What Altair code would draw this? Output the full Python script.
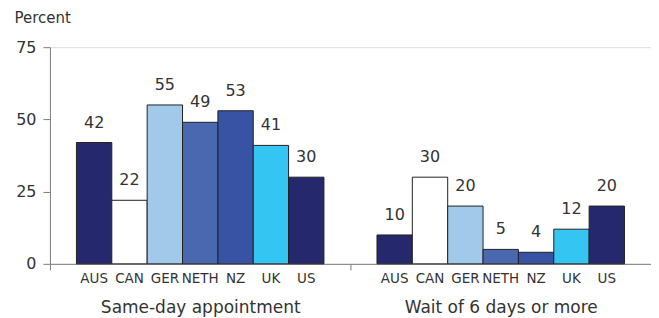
import altair as alt
import pandas as pd

countries = ["AUS", "CAN", "GER", "NETH", "NZ", "UK", "US"]
groups = ["Same-day appointment", "Wait of 6 days or more"]
same_day = [42, 22, 55, 49, 53, 41, 30]
wait_6 = [10, 30, 20, 5, 4, 12, 20]
colors = ["#26286e", "#ffffff", "#a2c8ea", "#4a68b0", "#3853a4", "#35c5f2", "#26286e"]

rows = []
for g, vals in zip(groups, [same_day, wait_6]):
    for c, v in zip(countries, vals):
        rows.append({"group": g, "country": c, "value": v})
df = pd.DataFrame(rows)

FONT = "DejaVu Sans"
TXT = "#333333"
AX = "#808080"

x = alt.X("group:N", sort=groups, title=None,
          scale=alt.Scale(paddingInner=0, paddingOuter=0),
          axis=alt.Axis(labelAngle=0, labelFontSize=17, labelColor=TXT, labelFont=FONT,
                        labelPadding=30, labelLimit=400, tickBand="extent", tickSize=6,
                        domainColor=AX, tickColor=AX, labelBaseline="top"))
xo = alt.XOffset("country:N", sort=countries,
                 scale=alt.Scale(paddingInner=0, paddingOuter=0.75))
y = alt.Y("value:Q", scale=alt.Scale(domain=[0, 75], nice=False), title="Percent",
          axis=alt.Axis(values=[0, 25, 50, 75], grid=False, labelFontSize=16,
                        labelColor=TXT, labelFont=FONT, tickSize=7, labelPadding=7,
                        domainColor=AX, tickColor=AX,
                        titleAngle=0, titleX=-36, titleY=-30, titleAlign="left",
                        titleBaseline="middle", titleFontSize=15, titleFontWeight="normal",
                        titleColor=TXT, titleFont=FONT))

base = alt.Chart(df)

bars = base.mark_bar(stroke="#222222", strokeWidth=1).encode(
    x=x, xOffset=xo, y=y,
    color=alt.Color("country:N", sort=countries, legend=None,
                    scale=alt.Scale(domain=countries, range=colors)),
)

vals = base.mark_text(baseline="middle", dy=-20, fontSize=16, color=TXT, font=FONT).encode(
    x=x, xOffset=xo, y="value:Q", text="value:Q")

labels = base.mark_text(baseline="top", dy=8, fontSize=13.5, color=TXT, font=FONT).encode(
    x=x, xOffset=xo, y=alt.datum(0), text="country:N")

chart = alt.layer(bars, vals, labels).properties(
    width=602, height=217,
    autosize=alt.AutoSizeParams(type="none"),
    padding={"left": 42, "top": 39, "right": 0, "bottom": 54},
).configure_view(stroke=None).configure(background="white")

chart.save("out.html", embed_options={"renderer": "svg", "actions": False})
